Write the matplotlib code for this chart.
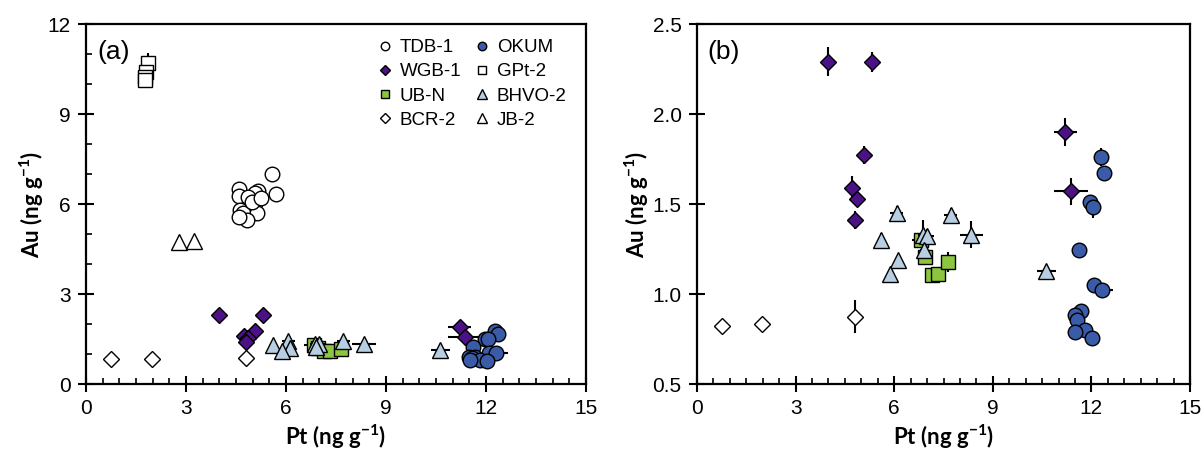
import matplotlib
matplotlib.use('Agg')
import matplotlib.pyplot as plt
from matplotlib.lines import Line2D
from matplotlib.ticker import MultipleLocator, FormatStrFormatter

# --- data (Pt, Au in ng/g) ---
tdb_pt = [5.59, 5.71, 4.60, 4.60, 5.17, 5.07, 4.87, 5.07, 4.62, 4.72, 5.12, 4.82, 4.60, 4.97, 5.25]
tdb_au = [7.01, 6.33, 6.49, 6.28, 6.43, 6.38, 6.24, 6.04, 5.80, 5.69, 5.69, 5.47, 5.58, 6.08, 6.20]

gpt_pt = [1.87, 1.80, 1.77, 1.77]
gpt_au = [10.69, 10.41, 10.24, 10.13]
gpt_pt_err = [0.0, 0.0, 0.0, 0.0]
gpt_au_err = [0.33, 0.0, 0.0, 0.28]

jb_pt = [2.80, 3.25]
jb_au = [4.74, 4.78]

bcr_pt = [0.75, 1.97, 4.80]
bcr_au = [0.822, 0.832, 0.874]
bcr_pt_err = [0.0, 0.0, 0.05]
bcr_au_err = [0.01, 0.01, 0.09]

wgb_pt = [3.98, 5.32, 5.08, 4.73, 4.87, 4.80, 11.21, 11.38]
wgb_au = [2.29, 2.29, 1.77, 1.59, 1.53, 1.41, 1.90, 1.57]
wgb_pt_err = [0.05, 0.05, 0.05, 0.08, 0.05, 0.05, 0.35, 0.52]
wgb_au_err = [0.08, 0.055, 0.05, 0.065, 0.03, 0.05, 0.078, 0.077]

ubn_pt = [6.83, 6.95, 7.15, 7.32, 7.65]
ubn_au = [1.30, 1.205, 1.105, 1.11, 1.18]
ubn_pt_err = [0.28, 0.2, 0.15, 0.1, 0.1]
ubn_au_err = [0.03, 0.03, 0.04, 0.02, 0.055]

bhvo_pt = [6.07, 5.61, 6.12, 5.87, 6.88, 7.00, 6.90, 7.72, 8.35, 10.63]
bhvo_au = [1.45, 1.30, 1.19, 1.11, 1.33, 1.32, 1.245, 1.44, 1.33, 1.13]
bhvo_pt_err = [0.2, 0.05, 0.05, 0.05, 0.15, 0.2, 0.1, 0.2, 0.36, 0.28]
bhvo_au_err = [0.04, 0.04, 0.02, 0.02, 0.08, 0.04, 0.03, 0.04, 0.075, 0.03]

okum_pt = [12.28, 12.37, 11.97, 12.06, 11.62, 12.08, 12.31, 11.67, 11.50, 11.57, 11.82, 11.51, 12.03]
okum_au = [1.76, 1.67, 1.51, 1.485, 1.245, 1.05, 1.025, 0.905, 0.885, 0.855, 0.80, 0.787, 0.757]
okum_pt_err = [0.05, 0.05, 0.1, 0.05, 0.05, 0.05, 0.35, 0.05, 0.05, 0.05, 0.05, 0.05, 0.15]
okum_au_err = [0.05, 0.02, 0.02, 0.06, 0.04, 0.02, 0.02, 0.02, 0.02, 0.02, 0.02, 0.02, 0.02]

purple = '#4b1285'
green = '#8cc63f'
blue = '#3a5ba8'
lightblue = '#b8cfe3'

# name, x, y, xerr, yerr, marker, size, face
samples = [
    ('TDB-1', tdb_pt, tdb_au, None, None, 'o', 10.5, 'white'),
    ('GPt-2', gpt_pt, gpt_au, gpt_pt_err, gpt_au_err, 's', 10, 'white'),
    ('JB-2', jb_pt, jb_au, None, None, '^', 11.5, 'white'),
    ('BCR-2', bcr_pt, bcr_au, bcr_pt_err, bcr_au_err, 'D', 8.5, 'white'),
    ('WGB-1', wgb_pt, wgb_au, wgb_pt_err, wgb_au_err, 'D', 8.5, purple),
    ('UB-N', ubn_pt, ubn_au, ubn_pt_err, ubn_au_err, 's', 10, green),
    ('BHVO-2', bhvo_pt, bhvo_au, bhvo_pt_err, bhvo_au_err, '^', 11.5, lightblue),
    ('OKUM', okum_pt, okum_au, okum_pt_err, okum_au_err, 'o', 10.5, blue),
]
legend_order = ['TDB-1', 'WGB-1', 'UB-N', 'BCR-2', 'OKUM', 'GPt-2', 'BHVO-2', 'JB-2']

plt.rcParams['font.family'] = 'Liberation Sans'
plt.rcParams['mathtext.default'] = 'regular'

fig = plt.figure(figsize=(12.04, 4.59), dpi=100)
ax1 = fig.add_axes([86 / 1204, 75 / 459, 500 / 1204, 360 / 459])
ax2 = fig.add_axes([697 / 1204, 75 / 459, 493 / 1204, 360 / 459])

for i, (name, x, y, xe, ye, m, s, fc) in enumerate(samples):
    for ax in (ax1, ax2):
        ax.errorbar(x, y, xerr=xe, yerr=ye, fmt=m, ms=s, mfc=fc, mec='black', mew=1,
                    ecolor='black', elinewidth=1.5, capsize=0, zorder=3 + i)


def style(ax, ylim, ymajor, yminor, label):
    ax.set_xlim(0, 15)
    ax.set_ylim(*ylim)
    ax.xaxis.set_major_locator(MultipleLocator(3))
    ax.xaxis.set_minor_locator(MultipleLocator(0.5))
    ax.yaxis.set_major_locator(MultipleLocator(ymajor))
    if yminor:
        ax.yaxis.set_minor_locator(MultipleLocator(yminor))
    ax.tick_params(which='major', direction='inout', length=12, width=1.5, labelsize=15, pad=5)
    ax.tick_params(which='minor', direction='in', length=4.5, width=1.2)
    for sp in ax.spines.values():
        sp.set_linewidth(1.6)
    ax.set_xlabel('Pt (ng g$^{-1}$)', fontsize=16, fontweight='bold', family='Lato', labelpad=3)
    ax.set_ylabel('Au (ng g$^{-1}$)', fontsize=16, fontweight='bold', family='Lato', labelpad=1)
    ax.text(0.022, 0.955, label, transform=ax.transAxes, fontsize=19, va='top', ha='left')


style(ax1, (0, 12), 3, 1, '(a)')
style(ax2, (0.5, 2.5), 0.5, None, '(b)')
ax2.yaxis.set_major_formatter(FormatStrFormatter('%.1f'))

lookup = {s[0]: s for s in samples}
handles = []
for name in legend_order:
    _, _, _, _, _, m, s, fc = lookup[name]
    handles.append(Line2D([], [], linestyle='none', marker=m, ms=s * 0.58, mfc=fc, mec='black', mew=1))
ax1.legend(handles, legend_order, ncol=2, loc='upper right', bbox_to_anchor=(0.995, 1.005),
           frameon=False, fontsize=13.5, handlelength=0.8, handletextpad=0.4,
           columnspacing=0.7, labelspacing=0.38)

fig.savefig('out.png', dpi=100)
